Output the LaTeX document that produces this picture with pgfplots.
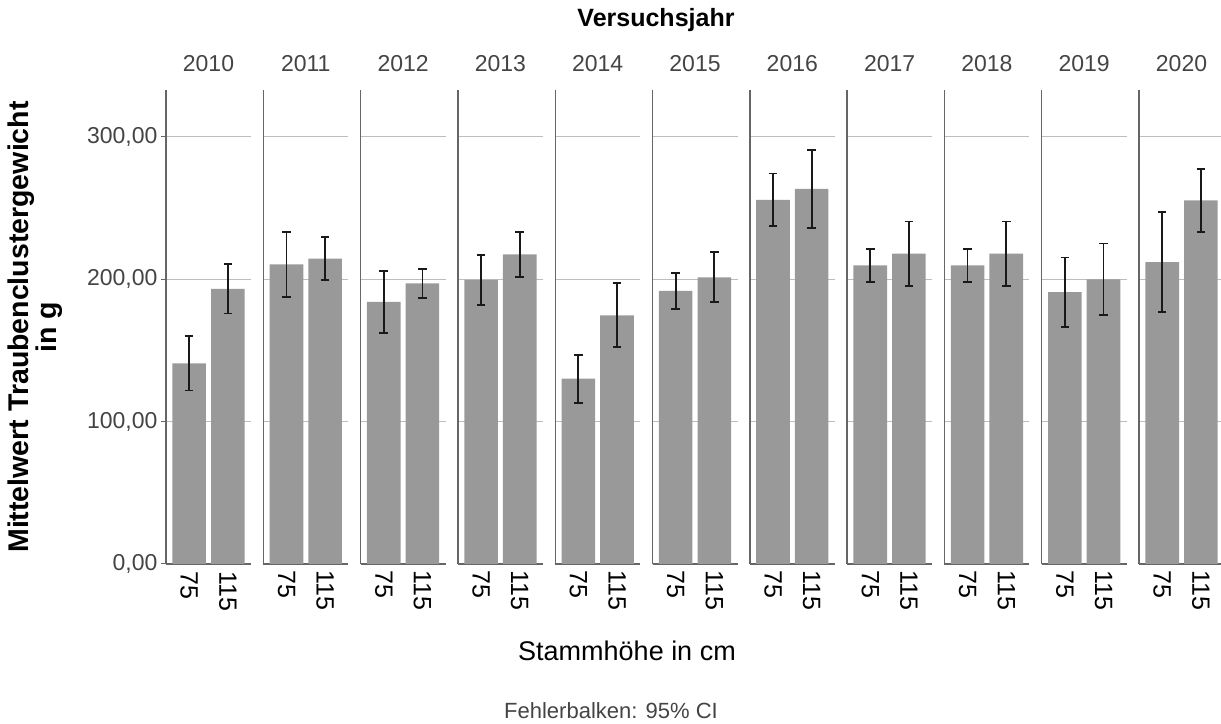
\documentclass[border=0pt]{standalone}
\usepackage{pgfplots}
\pgfplotsset{compat=1.18}
\usepackage{fontspec}
\setmainfont{Liberation Sans}
\definecolor{barc}{HTML}{999999}
\definecolor{gridc}{HTML}{BDBDBD}
\definecolor{axc}{HTML}{666666}
\definecolor{tickc}{HTML}{444444}
\pgfplotsset{
 panel/.style={
  scale only axis, width=85pt, height=474pt,
  anchor=south west,
  xmin=-0.6, xmax=1.6, ymin=0, ymax=333,
  axis x line*=bottom, axis y line*=left,
  axis line style={axc, line width=1.4pt},
  xtick={0,1}, xticklabels={75,115},
  xtick style={draw=none},
  xticklabel style={rotate=-90, anchor=west, inner sep=0pt, font=\fontsize{25}{25}\selectfont, text=black},
  xticklabel shift=2pt,
  ytick={0,100,200,300},
  ymajorgrids, grid style={gridc, line width=1pt},
  title style={at={(0.5,1)}, anchor=base, yshift=12pt, font=\fontsize{23}{23}\selectfont, text=tickc},
  /pgf/number format/assume math mode=true,
  ybar, bar width=0.87,
  error bars/y dir=both, error bars/y explicit,
  error bars/error bar style={black!90, line width=1.8pt},
  error bars/error mark options={rotate=90, mark size=4.3pt, line width=1.8pt, black!90},
 },
 inner/.style={panel, yticklabels={}, ytick style={draw=none}},
 barst/.style={fill=barc, draw=none},
}
\begin{document}
\begin{tikzpicture}[x=1pt,y=1pt]
\useasboundingbox (0,0) rectangle (1221,723);
% 2010
\begin{axis}[panel, at={(166pt,159pt)}, title={2010},
  ytick style={axc, line width=1pt}, major tick length=5pt, tick align=outside,
  yticklabel style={font=\fontsize{23}{23}\selectfont, text=tickc},
  yticklabel style={/pgf/number format/.cd, fixed, fixed zerofill, precision=2, use comma, 1000 sep={}}]
\addplot[barst] coordinates {(0,141.0) +- (0,19.1) (1,193.3) +- (0,17.3)};
\end{axis}
% 2011
\begin{axis}[inner, at={(263.3pt,159pt)}, title={2011}]
\addplot[barst] coordinates {(0,210.5) +- (0,22.7) (1,214.5) +- (0,15.0)};
\end{axis}
% 2012
\begin{axis}[inner, at={(360.6pt,159pt)}, title={2012}]
\addplot[barst] coordinates {(0,184.2) +- (0,21.7) (1,197.2) +- (0,10.1)};
\end{axis}
% 2013
\begin{axis}[inner, at={(457.9pt,159pt)}, title={2013}]
\addplot[barst] coordinates {(0,199.6) +- (0,17.6) (1,217.5) +- (0,15.6)};
\end{axis}
% 2014
\begin{axis}[inner, at={(555.2pt,159pt)}, title={2014}]
\addplot[barst] coordinates {(0,130.2) +- (0,16.9) (1,174.7) +- (0,22.5)};
\end{axis}
% 2015
\begin{axis}[inner, at={(652.5pt,159pt)}, title={2015}]
\addplot[barst] coordinates {(0,191.9) +- (0,12.8) (1,201.4) +- (0,17.6)};
\end{axis}
% 2016
\begin{axis}[inner, at={(749.8pt,159pt)}, title={2016}]
\addplot[barst] coordinates {(0,255.8) +- (0,18.5) (1,263.5) +- (0,27.6)};
\end{axis}
% 2017
\begin{axis}[inner, at={(847.1pt,159pt)}, title={2017}]
\addplot[barst] coordinates {(0,209.8) +- (0,11.5) (1,218.0) +- (0,22.6)};
\end{axis}
% 2018
\begin{axis}[inner, at={(944.4pt,159pt)}, title={2018}]
\addplot[barst] coordinates {(0,209.8) +- (0,11.5) (1,218.0) +- (0,22.6)};
\end{axis}
% 2019
\begin{axis}[inner, at={(1041.7pt,159pt)}, title={2019}]
\addplot[barst] coordinates {(0,191.0) +- (0,24.3) (1,200.0) +- (0,25.1)};
\end{axis}
% 2020
\begin{axis}[inner, at={(1139pt,159pt)}, title={2020}]
\addplot[barst] coordinates {(0,212.0) +- (0,35.1) (1,255.5) +- (0,22.2)};
\end{axis}
\node[font=\bfseries\fontsize{25}{25}\selectfont] at (656,703) {Versuchsjahr};
\node[font=\bfseries\fontsize{28.5}{24}\selectfont, rotate=90, align=center] at (35,396) {Mittelwert Traubenclustergewicht\\in g};
\node[font=\fontsize{27}{27}\selectfont] at (627,72) {Stammhöhe in cm};
\node[font=\fontsize{22}{22}\selectfont, text=tickc] at (611,12) {Fehlerbalken: 95\% CI};
\end{tikzpicture}
\end{document}
